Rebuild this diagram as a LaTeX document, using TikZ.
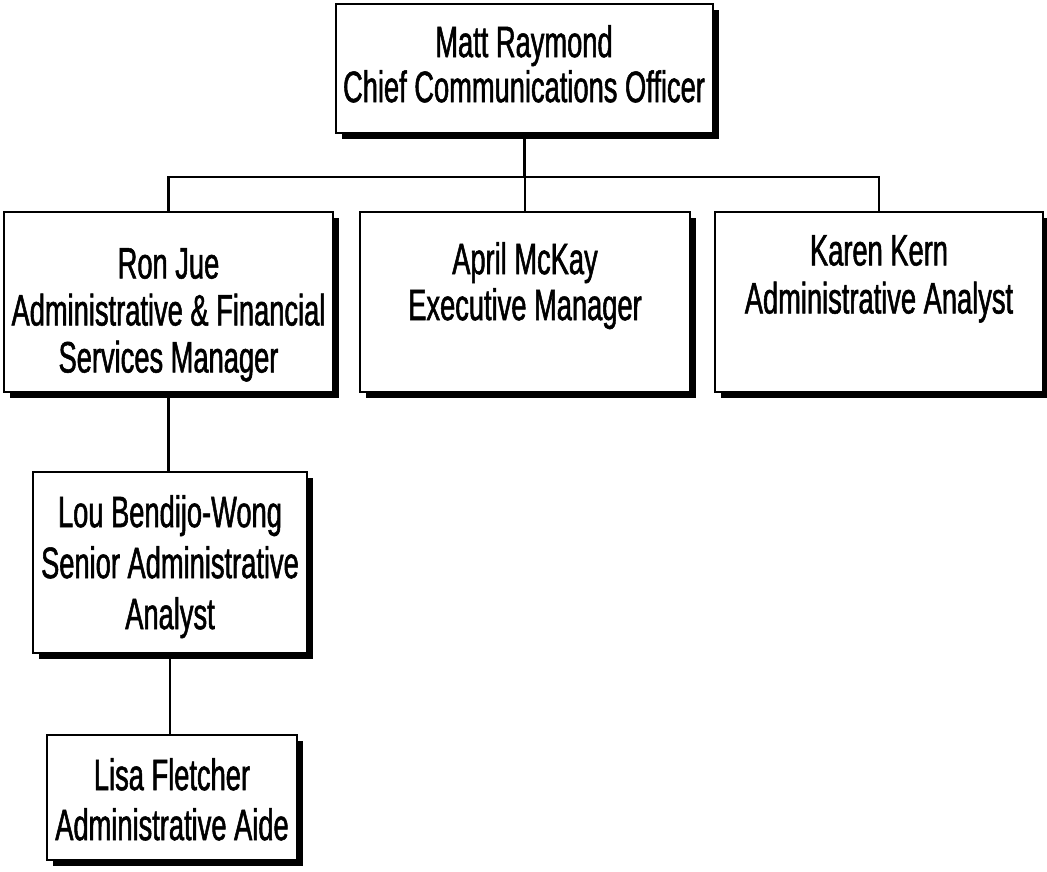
\documentclass[tikz,border=0pt]{standalone}
\usepackage{fontspec}
\setmainfont[FakeStretch=0.62,FakeBold=1.2]{Liberation Sans}
\usetikzlibrary{shadows}
\tikzset{
  orgbox/.style={rectangle, draw=black, line width=2.8pt, fill=white, inner sep=0pt,
    drop shadow={shadow xshift=5.5pt, shadow yshift=-5.5pt, opacity=1, fill=black}},
  orgtext/.style={anchor=north, inner sep=0pt, align=center, text=black},
  conn/.style={draw=black, line width=2.4pt}
}
\begin{document}
\begin{tikzpicture}[x=1pt, y=-1pt]
\useasboundingbox (0,0) rectangle (1047,871);
% boxes
\node[orgbox, minimum width=377pt, minimum height=129pt] (top) at (524.5,68.5) {};
\node[orgbox, minimum width=329pt, minimum height=180pt] (ron) at (168.5,302) {};
\node[orgbox, minimum width=330pt, minimum height=180pt] (april) at (525,302) {};
\node[orgbox, minimum width=328pt, minimum height=180pt] (karen) at (879,302) {};
\node[orgbox, minimum width=274pt, minimum height=181pt] (lou) at (170,562.5) {};
\node[orgbox, minimum width=250pt, minimum height=125pt] (lisa) at (172,797.5) {};
% connectors
\coordinate (bus) at (0,177);
\draw[conn] (top.south) -- (top.south |- bus);
\draw[conn] (ron.north) |- (karen.north |- bus) -- (karen.north);
\draw[conn] (april.north) -- (april.north |- bus);
\draw[conn] (ron.south) -- (ron.south |- lou.north);
\draw[conn] (lou.south) -- (lou.south |- lisa.north);
% texts
\node[orgtext, font=\fontsize{44}{45}\selectfont] (toptxt) at (524,25) {Matt Raymond\\Chief Communications Officer};
\node[orgtext, font=\fontsize{44}{47}\selectfont] (rontxt) at (168.5,248) {Ron Jue\\Administrative \& Financial\\Services Manager};
\node[orgtext, font=\fontsize{44}{46}\selectfont] (apriltxt) at (525,242) {April McKay\\Executive Manager};
\node[orgtext, font=\fontsize{44}{48}\selectfont] (karentxt) at (879,235) {Karen Kern\\Administrative Analyst};
\node[orgtext, font=\fontsize{44}{51}\selectfont] (loutxt) at (170,495) {Lou Bendijo-Wong\\Senior Administrative\\Analyst};
\node[orgtext, font=\fontsize{44}{50}\selectfont] (lisatxt) at (172,758) {Lisa Fletcher\\Administrative Aide};
\end{tikzpicture}
\end{document}
